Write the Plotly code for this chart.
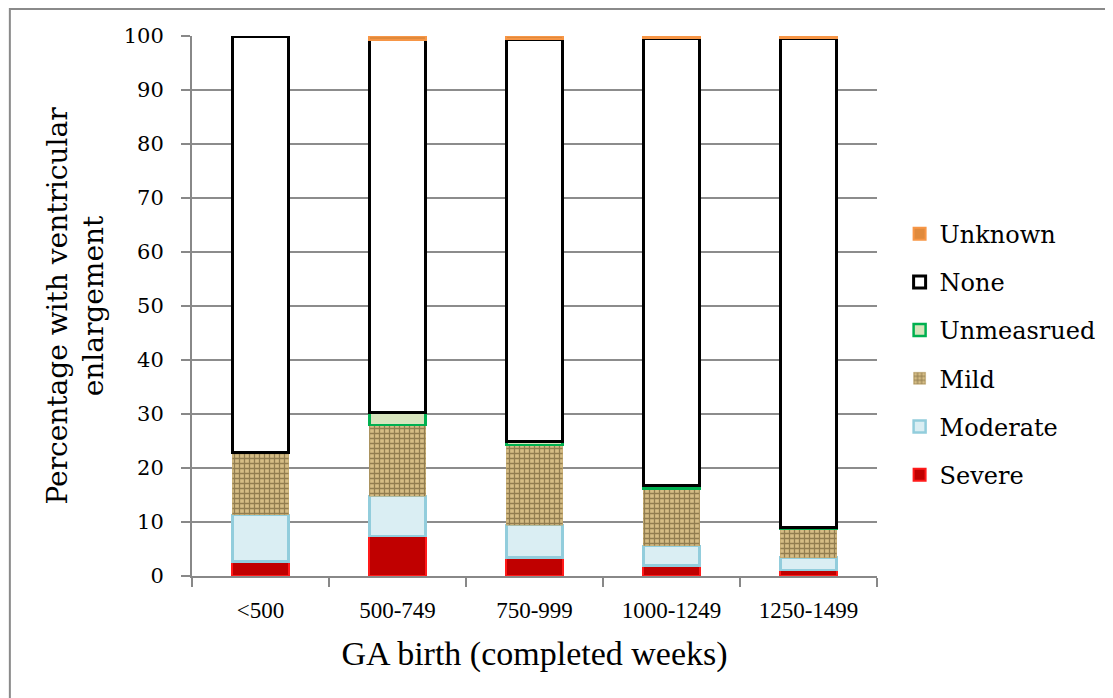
import plotly.graph_objects as go

categories = ["<500", "500-749", "750-999", "1000-1249", "1250-1499"]

# stacked percentages, bottom to top
severe = [2.7, 7.4, 3.4, 1.9, 1.1]
moderate = [8.6, 7.4, 6.0, 3.7, 2.3]
mild = [11.6, 13.2, 14.9, 10.6, 5.4]
unmeasured = [0.0, 2.2, 0.6, 0.6, 0.2]
none = [77.1, 69.1, 74.5, 82.8, 90.6]
unknown = [0.0, 0.7, 0.6, 0.4, 0.4]

y_ticks = list(range(0, 101, 10))

# page has an 8px body margin, so the figure is a bit smaller
W, H = 1105, 690
L, R, T, B = 184, 229, 28, 122
serif = "DejaVu Serif, Liberation Serif, serif"
narrow = "Liberation Serif, serif"

series = [
    ("Severe", severe, "#c00000", "#ff1a1a", 2, None),
    ("Moderate", moderate, "#daeef3", "#92cddc", 2.5, None),
    ("Mild", mild, "#c4a96e", "#c4a96e", 0.5,
     dict(shape="+", fgcolor="#4e3e1c", bgcolor="#d6bd85", size=5, solidity=0.45)),
    ("Unmeasrued", unmeasured, "#d7e4bd", "#00b050", 2.5, None),
    ("None", none, "#ffffff", "#000000", 3, None),
    ("Unknown", unknown, "#e08a3c", "#f79646", 2, None),
]

fig = go.Figure()
for i, (name, vals, fill, edge, lw, pat) in enumerate(series):
    marker = dict(color=fill, line=dict(color=edge, width=lw))
    if pat:
        marker["pattern"] = pat
    fig.add_trace(go.Bar(
        x=categories,
        y=[v if v > 0 else None for v in vals],  # empty segment -> no outline
        name=name, marker=marker,
        legendgroup=name, legendrank=100 - i,
    ))

fig.update_layout(
    width=W, height=H,
    margin=dict(l=L, r=R, t=T, b=B),
    barmode="stack",
    bargap=0.59,
    plot_bgcolor="white",
    paper_bgcolor="white",
    font=dict(family=serif, size=21, color="#000000"),
    legend=dict(
        x=1.033, y=0.41, yanchor="middle", xanchor="left",
        traceorder="grouped", tracegroupgap=14,
        font=dict(size=24), itemwidth=30,
        bgcolor="rgba(0,0,0,0)",
    ),
    xaxis=dict(
        type="category",
        showline=True, linecolor="#888888", linewidth=2,
        ticks="outside", tickson="boundaries", ticklen=9,
        tickcolor="#888888", tickwidth=2,
        tickfont=dict(family=narrow, size=23),
        ticklabelstandoff=12,
        title=dict(text="GA birth (completed weeks)",
                   font=dict(family=narrow, size=34), standoff=20),
    ),
    yaxis=dict(
        range=[0, 100],
        tickvals=y_ticks,
        showgrid=True, gridcolor="#8c8c8c", gridwidth=2,
        showline=True, linecolor="#888888", linewidth=2,
        ticks="outside", ticklen=9, tickcolor="#888888", tickwidth=2,
        tickfont=dict(size=21),
        ticklabelstandoff=13,
        zeroline=False,
        title=dict(text="Percentage with ventricular<br>enlargement",
                   font=dict(size=28), standoff=12),
    ),
    shapes=[dict(
        type="rect", xref="paper", yref="paper",
        x0=(0 - L) / (W - L - R), x1=1.6,
        y0=-0.5, y1=(H - B - 1) / (H - T - B),
        line=dict(color="#8a8a8a", width=2), layer="below",
    )],
)

fig.write_html("out.html")
